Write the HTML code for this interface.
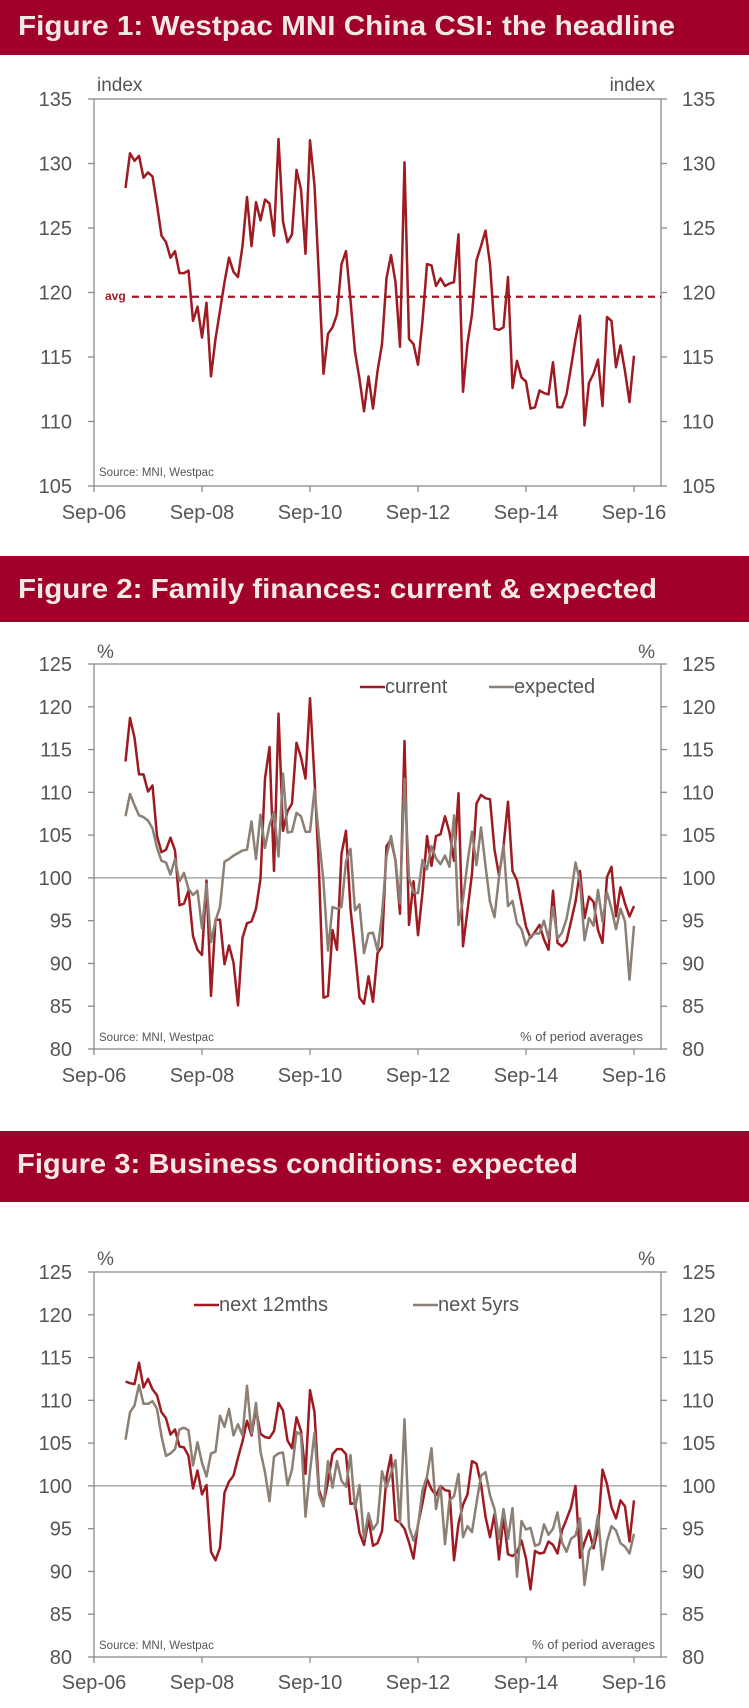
<!DOCTYPE html>
<html><head><meta charset="utf-8"><title>Westpac MNI China CSI</title>
<style>
html,body{margin:0;padding:0;background:#fff;}
svg{display:block;font-family:"Liberation Sans",sans-serif;}
</style></head>
<body>
<svg id="root" width="749" height="1708" viewBox="0 0 749 1708" xmlns="http://www.w3.org/2000/svg">
<g>
<rect x="0" y="0" width="749" height="55" fill="#A0002A"/>
<text x="18" y="35" font-size="28" font-weight="bold" fill="#F2E8E4" textLength="657" lengthAdjust="spacingAndGlyphs">Figure 1: Westpac MNI China CSI: the headline</text>
<g id="c1"></g>
</g>
<g>
<rect x="0" y="556" width="749" height="66" fill="#A0002A"/>
<text x="18" y="598" font-size="28" font-weight="bold" fill="#F2E8E4" textLength="639" lengthAdjust="spacingAndGlyphs">Figure 2: Family finances: current &amp; expected</text>
<g id="c2"></g>
</g>
<g>
<rect x="0" y="1131" width="749" height="71" fill="#A0002A"/>
<text x="17" y="1173" font-size="28" font-weight="bold" fill="#F2E8E4" textLength="561" lengthAdjust="spacingAndGlyphs">Figure 3: Business conditions: expected</text>
<g id="c3"></g>
</g>
</svg>
<script>
const xTickLabels = ["Sep-06","Sep-08","Sep-10","Sep-12","Sep-14","Sep-16"];
const csiHeadline = [128.1,130.8,130.2,130.6,128.9,129.3,129.0,126.8,124.4,123.9,122.7,123.2,121.5,121.5,121.7,117.8,118.9,116.5,119.2,113.5,116.4,118.6,120.8,122.7,121.6,121.2,123.6,127.4,123.6,127.0,125.6,127.2,126.9,124.4,131.9,125.5,123.9,124.5,129.5,128.0,123.0,131.8,128.3,121.1,113.7,116.8,117.3,118.3,122.2,123.2,119.4,115.4,113.3,110.8,113.5,111.0,113.9,116.0,121.1,122.9,120.8,115.8,130.1,116.4,116.0,114.4,117.8,122.2,122.1,120.5,121.1,120.5,120.7,120.8,124.5,112.3,116.1,118.3,122.5,123.6,124.8,122.2,117.2,117.1,117.3,121.2,112.6,114.7,113.4,113.1,111.0,111.1,112.4,112.2,112.1,114.6,111.1,111.1,112.1,114.2,116.4,118.2,109.7,113.0,113.7,114.8,111.2,118.1,117.8,114.2,115.9,113.9,111.5,115.1];
const csiAverage = [119.67];
const fig1YTicks = [105,110,115,120,125,130,135];
const famCurrent = [113.6,118.7,116.4,112.1,112.1,110.1,110.8,104.9,103.0,103.3,104.7,103.2,96.8,97.0,98.5,93.2,91.6,91.0,99.7,86.2,95.1,95.1,89.9,92.1,90.1,85.1,93.0,94.7,94.9,96.4,99.9,111.6,115.3,100.8,119.2,105.5,107.8,108.7,115.8,114.1,111.6,121.0,111.6,100.8,86.0,86.2,93.9,91.6,102.8,105.5,96.4,91.4,86.0,85.3,88.5,85.5,91.2,92.0,103.7,104.5,102.0,95.8,116.0,94.5,99.6,93.3,98.3,104.9,101.4,104.9,105.1,107.2,105.3,102.0,109.9,92.0,96.2,100.5,108.7,109.7,109.3,109.2,103.3,100.3,103.7,108.9,100.8,99.7,97.0,94.3,93.0,93.7,94.5,92.8,91.6,98.5,92.4,92.0,92.6,94.9,97.2,100.8,95.3,97.8,97.2,93.9,92.4,100.1,101.3,95.5,98.9,97.0,95.5,96.7];
const famExpected = [107.2,109.8,108.5,107.3,107.1,106.7,105.8,103.5,102.0,101.8,100.4,102.2,99.6,100.6,98.7,98.0,98.5,94.1,99.3,92.5,95.0,96.6,101.9,102.2,102.6,102.9,103.2,103.3,106.6,102.2,107.4,103.5,106.2,107.7,102.5,112.2,105.3,105.4,107.6,107.2,105.4,105.4,110.3,104.7,99.5,91.5,96.6,96.4,96.6,101.9,103.4,96.2,96.9,91.2,93.5,93.6,91.5,95.7,102.5,104.9,102.0,97.0,111.6,100.0,98.3,98.2,102.1,101.0,103.7,102.3,101.6,102.6,101.3,107.3,94.5,97.5,101.8,105.4,101.5,105.9,101.4,97.2,95.4,100.1,103.8,96.7,97.3,94.7,94.0,92.1,93.2,93.5,93.5,95.0,92.9,96.6,92.9,93.6,95.2,98.0,101.8,99.6,92.7,95.3,94.4,98.6,94.9,98.3,96.4,94.0,96.4,94.9,88.1,94.4];
const bizNext12 = [112.2,112.0,111.9,114.4,111.5,112.5,111.3,110.6,108.6,107.9,106.0,106.6,104.6,104.5,103.5,99.7,101.8,99.0,100.1,92.3,91.3,92.8,99.2,100.5,101.2,103.3,105.2,107.6,105.9,109.0,106.1,105.7,105.6,106.4,109.7,108.8,105.3,104.4,108.0,106.4,101.4,111.2,108.6,99.5,97.9,100.5,103.7,104.3,104.3,103.7,97.9,98.0,94.5,93.1,96.1,93.0,93.3,94.7,101.0,103.6,96.0,95.7,95.0,93.4,91.5,95.5,98.0,100.8,99.6,98.9,100.0,99.5,99.4,91.3,95.6,97.8,99.0,102.9,102.6,100.2,96.4,94.0,96.7,91.4,96.4,92.0,91.8,92.2,93.6,91.5,87.9,92.4,92.1,92.2,93.5,93.1,92.1,94.8,96.1,97.5,100.0,91.6,93.4,94.8,92.7,95.0,101.9,100.2,97.5,96.2,98.3,97.6,93.5,98.3];
const bizNext5 = [105.4,108.6,109.4,111.8,109.6,109.6,109.9,109.0,105.8,103.5,103.8,104.3,106.6,106.8,106.5,102.4,105.1,102.7,101.1,103.8,104.0,108.2,106.9,109.0,105.9,107.2,105.9,111.7,106.1,109.7,104.0,101.6,98.2,103.4,103.8,103.9,100.1,101.9,106.3,106.0,96.4,101.7,106.2,99.0,97.6,102.9,99.8,102.9,100.6,99.9,103.6,97.3,100.1,93.8,96.8,94.9,95.7,101.7,99.8,101.5,103.0,95.7,107.8,95.2,93.6,95.3,99.5,101.1,104.4,97.3,100.0,93.2,98.3,98.8,101.4,94.0,95.3,94.6,98.0,101.2,101.6,98.9,97.3,93.8,97.3,93.8,97.4,89.4,95.9,94.9,95.1,93.0,93.2,95.5,94.3,95.0,96.9,93.4,92.3,93.8,94.2,96.2,88.4,92.4,93.3,96.6,90.2,93.5,95.3,94.8,93.3,92.9,92.1,94.4];
const pctYTicks = [80,85,90,95,100,105,110,115,120,125];

const NS="http://www.w3.org/2000/svg";
const RED="#9E1B22", GRAY="#8C7F74", AX="#8a8a8a", TXT="#555";
function mk(parent,tag,attrs){const e=document.createElementNS(NS,tag);for(const k in attrs)e.setAttribute(k,attrs[k]);parent.appendChild(e);return e;}

function drawChart(gid,cfg){
  const g=document.getElementById(gid);
  const L=94,R=661,T=cfg.top,B=cfg.bottom;
  const x0=94,x1=634;
  const xm=m=>x0+(x1-x0)*m/120;
  const y=v=>B-(v-cfg.min)/(cfg.max-cfg.min)*(B-T);
  const frame=mk(g,'rect',{x:L,y:T,width:R-L,height:B-T,fill:'none',stroke:AX,'stroke-width':1.3});
  
  
  cfg.yticks.forEach(v=>{
    const yy=y(v);
    const tl=mk(g,'line',{x1:L-6,x2:L,y1:yy,y2:yy,stroke:AX,'stroke-width':1.3});
    
    
    const tr=mk(g,'line',{x1:R,x2:R+6,y1:yy,y2:yy,stroke:AX,'stroke-width':1.3});
    
    
    const a=mk(g,'text',{x:72,y:yy+7,'text-anchor':'end','font-size':20,fill:TXT});
    a.textContent=v;
    
    
    const b=mk(g,'text',{x:682,y:yy+7,'font-size':20,fill:TXT});
    b.textContent=v;
    
    
  });
  xTickLabels.forEach((s,i)=>{
    const xx=xm(i*24);
    const t=mk(g,'line',{x1:xx,x2:xx,y1:B,y2:B+6,stroke:AX,'stroke-width':1.3});
    
    
    const lb=mk(g,'text',{x:xx,y:cfg.xlab+7,'text-anchor':'middle','font-size':20,fill:TXT});
    lb.textContent=s;
    
    
  });
  const ul=mk(g,'text',{x:97,y:cfg.unitY+6,'font-size':19,fill:TXT});
  ul.textContent=cfg.unit;
  
  
  const ur=mk(g,'text',{x:655,y:cfg.unitY+6,'font-size':19,fill:TXT,'text-anchor':'end'});
  ur.textContent=cfg.unit;
  
  
  const src=mk(g,'text',{x:99,y:cfg.srcY+4,'font-size':11.5,fill:TXT});
  src.textContent="Source: MNI, Westpac";
  
  
  if(cfg.note){
    const n=mk(g,'text',{x:cfg.noteX,y:cfg.srcY+4,'font-size':13,fill:TXT,'text-anchor':'end'});
    n.textContent=cfg.note;
    
    
  }
  if(cfg.ref!==undefined){
    const r=mk(g,'line',{x1:L,x2:R,y1:y(cfg.ref),y2:y(cfg.ref),stroke:'#999','stroke-width':1.3});
    
    
  }
  if(cfg.avg!==undefined){
    const a=mk(g,'line',{x1:132,x2:R,y1:y(cfg.avg),y2:y(cfg.avg),stroke:RED,'stroke-width':2.2,'stroke-dasharray':'7,5'});
    
    
    const at=mk(g,'text',{x:105,y:y(cfg.avg)+3,'font-size':12,'font-weight':'bold',fill:RED});
    at.textContent="avg";
    
    
  }
  cfg.series.forEach(s=>{
    const n=s.data.length;
    const pts=s.data.map((v,i)=>xm(7+i*113/(n-1)).toFixed(1)+","+y(v).toFixed(1)).join(" ");
    const p=mk(g,'polyline',{points:pts,fill:'none',stroke:s.color,'stroke-width':2.5,'stroke-linejoin':'round'});
    
    
  });
  (cfg.legend||[]).forEach(l=>{
    const ln=mk(g,'line',{x1:l.x,x2:l.x+25,y1:cfg.legY,y2:cfg.legY,stroke:l.color,'stroke-width':2.6});
    
    
    const t=mk(g,'text',{x:l.x+25,y:cfg.legY+6,'font-size':20,fill:TXT});
    t.textContent=l.label;
    
    
  });
}

drawChart('c1',{top:99,bottom:486,min:105,max:135,yticks:fig1YTicks,xlab:512,unit:'index',unitY:85,srcY:472,
  avg:csiAverage[0],series:[{data:csiHeadline,color:RED,name:'csi-headline-line'}]});
drawChart('c2',{top:664,bottom:1049,min:80,max:125,yticks:pctYTicks,xlab:1075,unit:'%',unitY:652,srcY:1037,
  note:'% of period averages',noteX:643,ref:100,legY:687,
  series:[{data:famCurrent,color:RED,name:'current-line'},{data:famExpected,color:GRAY,name:'expected-line'}],
  legend:[{x:360,color:RED,label:'current'},{x:489,color:GRAY,label:'expected'}]});
drawChart('c3',{top:1272,bottom:1657,min:80,max:125,yticks:pctYTicks,xlab:1682,unit:'%',unitY:1259,srcY:1645,
  note:'% of period averages',noteX:655,ref:100,legY:1305,
  series:[{data:bizNext12,color:RED,name:'next-12mths-line'},{data:bizNext5,color:GRAY,name:'next-5yrs-line'}],
  legend:[{x:194,color:RED,label:'next 12mths'},{x:413,color:GRAY,label:'next 5yrs'}]});
</script>
</body></html>
